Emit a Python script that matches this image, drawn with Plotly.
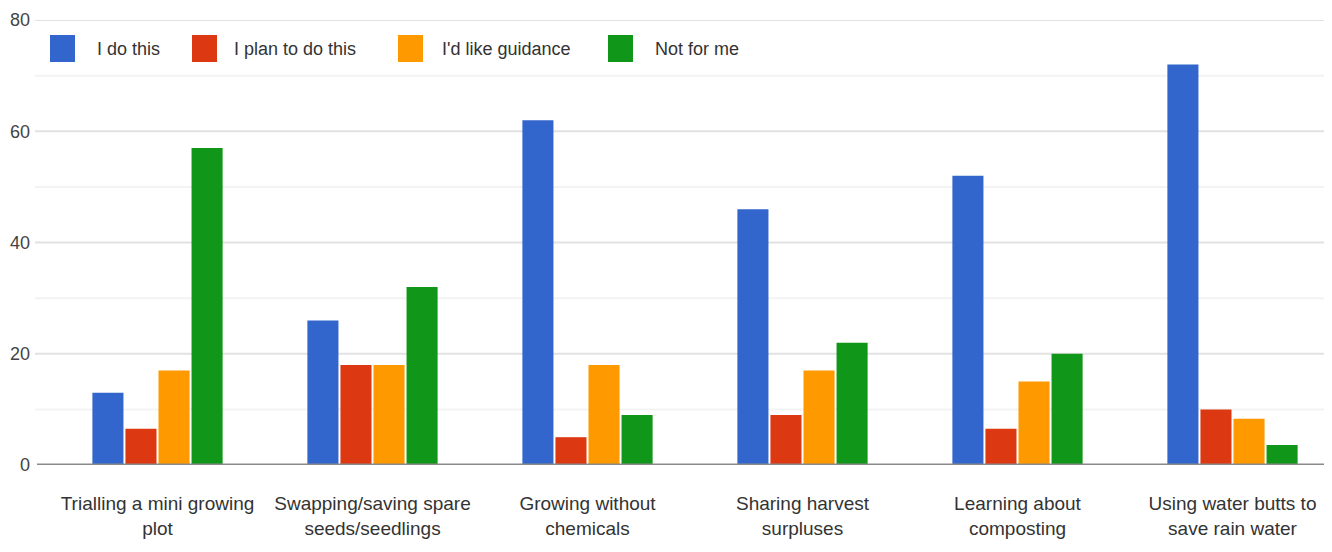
import plotly.graph_objects as go

categories = ["Trialling a mini growing<br>plot", "Swapping/saving spare<br>seeds/seedlings",
              "Growing without<br>chemicals", "Sharing harvest<br>surpluses",
              "Learning about<br>composting", "Using water butts to<br>save rain water"]
series_names = ["I do this", "I plan to do this", "I'd like guidance", "Not for me"]
do_this = [13, 26, 62, 46, 52, 72]
plan_to = [6.5, 18, 5, 9, 6.5, 10]
guidance = [17, 18, 18, 17, 15, 8.3]
not_for_me = [57, 32, 9, 22, 20, 3.6]
colors = ["#3366cc", "#dc3912", "#ff9900", "#109618"]
y_ticks = [0, 20, 40, 60, 80]

W, H = 1332, 552
ML, MR, MT, MB = 42, 0, 12, 95
PW, PH = W - ML - MR, H - MT - MB


def px_x(x):
    return (x - ML) / PW


def px_y(y):
    return (H - MB - y) / PH


FONT = "Liberation Sans, Arial, sans-serif"
fig = go.Figure()
for name, vals, col in zip(series_names, [do_this, plan_to, guidance, not_for_me], colors):
    fig.add_trace(go.Bar(x=categories, y=vals, name=name, marker_color=col,
                         marker_line_width=0, showlegend=False))

shapes = []
for t in [10, 20, 30, 40, 50, 60, 70, 80]:
    shapes.append(dict(type="line", xref="paper", yref="y", x0=px_x(27), x1=1, y0=t, y1=t,
                       line=dict(color="#e2e2e2" if t % 20 == 0 else "#f3f3f3", width=2), layer="below"))
shapes.append(dict(type="line", xref="paper", yref="y", x0=px_x(29), x1=1, y0=0, y1=0,
                   line=dict(color="#8a8a8a", width=3), layer="above"))

# legend (manual, large swatches)
legend_sq_x = [42, 184, 390, 600]
legend_txt_x = [87, 224, 432, 645]
annotations = []
for name, col, sx, tx in zip(series_names, colors, legend_sq_x, legend_txt_x):
    shapes.append(dict(type="rect", xref="paper", yref="paper",
                       x0=px_x(sx), x1=px_x(sx + 25), y0=px_y(54), y1=px_y(27),
                       fillcolor=col, line=dict(width=0)))
    annotations.append(dict(text=name, xref="paper", yref="paper", x=px_x(tx), y=px_y(40.5),
                            xanchor="left", yanchor="middle", showarrow=False,
                            font=dict(family=FONT, size=18, color="#333333")))

fig.update_layout(
    width=W, height=H,
    margin=dict(l=ML, r=MR, t=MT, b=MB),
    paper_bgcolor="white", plot_bgcolor="white",
    barmode="group", bargap=0.385, bargroupgap=0.06,
    font=dict(family=FONT, size=19, color="#333333"),
    shapes=shapes, annotations=annotations, showlegend=False,
    xaxis=dict(range=[-0.5, 5.5], showgrid=False, showline=False, ticks="", automargin=False,
               ticklabelstandoff=25,
               tickfont=dict(family=FONT, size=19, color="#333333")),
    yaxis=dict(range=[0, 80], tickvals=y_ticks, showgrid=False, zeroline=False, showline=False,
               ticks="", ticklabelstandoff=19, automargin=False,
               tickfont=dict(family=FONT, size=18, color="#444444")),
)
fig.write_html("out.html")
